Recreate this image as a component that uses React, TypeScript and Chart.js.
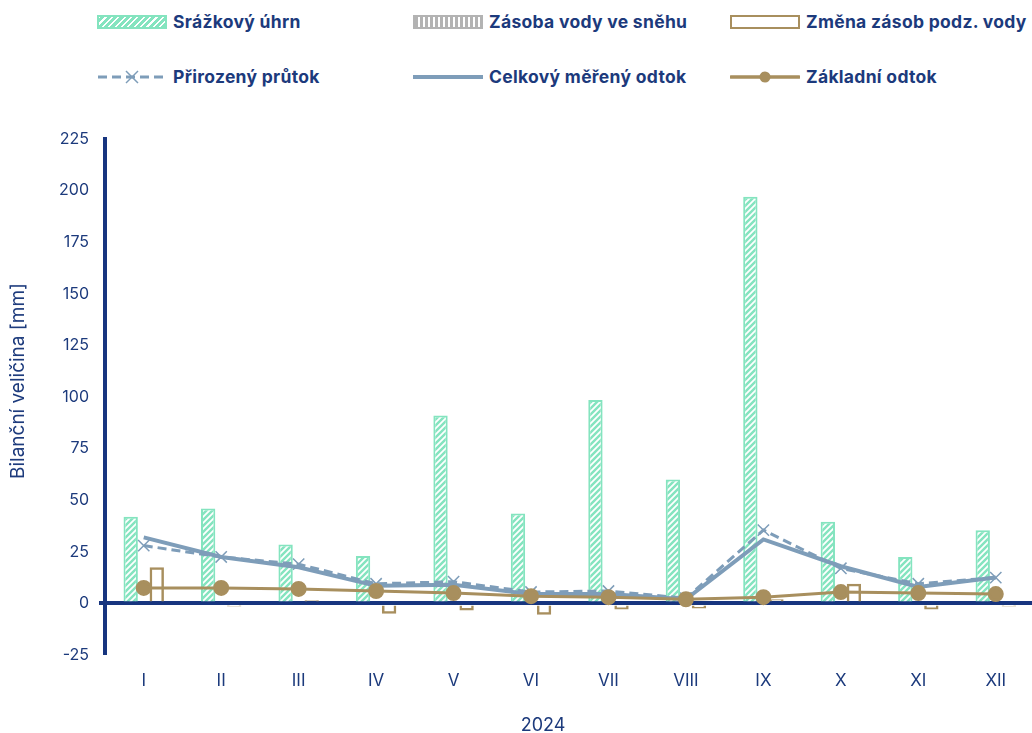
import React, { useEffect, useRef } from "react";
import { Chart, registerables } from "chart.js";

Chart.register(...registerables);

const categories = ["I", "II", "III", "IV", "V", "VI", "VII", "VIII", "IX", "X", "XI", "XII"];
const precipitation = [42, 46, 28.5, 23, 91, 43.5, 98.5, 60, 197, 39.5, 22.5, 35.5];
const snowStorage = [0, 0, 0, 0, 0, 0, 0, 0, 0, 0, 0, 0];
const groundwaterChange = [17.5, -1.5, 1.5, -5, -3.5, -5.5, -3, -2.5, 2, 9.5, -3, -1.5];
const naturalFlow = [28, 22.5, 19, 9.5, 10.5, 5.5, 6, 2.5, 35.5, 17, 9.5, 12.5];
const totalRunoff = [32, 22.5, 17.5, 8.5, 9, 4.5, 4.5, 2, 31, 18, 8, 12.5];
const baseflow = [7.5, 7.5, 7, 6, 5, 3.5, 3, 2, 3, 5.5, 5, 4.5];
const yTicks = [-25, 0, 25, 50, 75, 100, 125, 150, 175, 200, 225];
const yTitle = "Bilanční veličina [mm]";
const xTitle = "2024";

const NAVY = "#1c3a7c";
const AXIS = "#17357f";
const GREEN = "#84e4bf";
const GRAY = "#b3b3b3";
const BROWN = "#a88f5e";
const BLUE = "#7e9db9";
const FONT = "Inter, 'Noto Sans', sans-serif";

function hatch(bg: string, fg: string): CanvasPattern | string {
  const c = document.createElement("canvas");
  c.width = 6;
  c.height = 6;
  const g = c.getContext("2d");
  if (!g) return bg;
  g.fillStyle = bg;
  g.fillRect(0, 0, 6, 6);
  g.strokeStyle = fg;
  g.lineWidth = 1.8;
  g.beginPath();
  g.moveTo(-1, 7);
  g.lineTo(7, -1);
  g.moveTo(-4, 4);
  g.lineTo(4, -4);
  g.moveTo(2, 10);
  g.lineTo(10, 2);
  g.stroke();
  const p = g.createPattern(c, "repeat");
  return p || bg;
}

const legendText: React.CSSProperties = {
  fontFamily: FONT,
  fontWeight: 700,
  fontSize: 17.5,
  color: NAVY,
  whiteSpace: "nowrap",
  position: "absolute",
  lineHeight: "20px",
  letterSpacing: "0.3px",
};

function LegendItem(props: { x: number; y: number; label: string; swatch: React.ReactNode }) {
  return (
    <>
      <div style={{ position: "absolute", left: props.x, top: props.y - 10, width: 70, height: 20 }}>
        {props.swatch}
      </div>
      <div style={{ ...legendText, left: props.x + 76, top: props.y - 10 }}>{props.label}</div>
    </>
  );
}

export default function App() {
  const ref = useRef<HTMLCanvasElement>(null);

  useEffect(() => {
    if (!ref.current) return;
    const greenPat = hatch(GREEN, "#ffffff");
    const chart = new Chart(ref.current, {
      type: "bar",
      data: {
        labels: categories,
        datasets: [
          {
            type: "bar",
            label: "Srážkový úhrn",
            data: precipitation,
            backgroundColor: greenPat as any,
            borderColor: GREEN,
            borderWidth: 2,
            categoryPercentage: 0.505,
            barPercentage: 1.1,
            order: 5,
          },
          {
            type: "bar",
            label: "Zásoba vody ve sněhu",
            data: snowStorage,
            backgroundColor: GRAY,
            borderColor: GRAY,
            borderWidth: 0,
            categoryPercentage: 0.505,
            barPercentage: 1.1,
            order: 5,
          },
          {
            type: "bar",
            label: "Změna zásob podz. vody",
            data: groundwaterChange,
            backgroundColor: "rgba(255,255,255,0)",
            borderColor: BROWN,
            borderWidth: 2.5,
            categoryPercentage: 0.505,
            barPercentage: 1.1,
            order: 5,
          },
          {
            type: "line",
            label: "Přirozený průtok",
            data: naturalFlow,
            borderColor: BLUE,
            backgroundColor: BLUE,
            borderWidth: 3,
            borderDash: [9, 5],
            pointStyle: "crossRot",
            pointRadius: 8,
            pointBorderWidth: 1.5,
            pointBorderColor: BLUE,
            tension: 0,
            order: 3,
          },
          {
            type: "line",
            label: "Celkový měřený odtok",
            data: totalRunoff,
            borderColor: BLUE,
            backgroundColor: BLUE,
            borderWidth: 4,
            pointRadius: 0,
            tension: 0,
            order: 2,
          },
          {
            type: "line",
            label: "Základní odtok",
            data: baseflow,
            borderColor: BROWN,
            backgroundColor: BROWN,
            borderWidth: 3,
            pointStyle: "circle",
            pointRadius: 6.5,
            pointBackgroundColor: BROWN,
            pointBorderColor: BROWN,
            tension: 0,
            order: 1,
          },
        ],
      },
      options: {
        animation: false,
        responsive: true,
        maintainAspectRatio: false,
        layout: { padding: { top: 139, right: 0, bottom: 0, left: 0 } },
        plugins: {
          legend: { display: false },
          tooltip: { enabled: false },
        },
        scales: {
          x: {
            offset: true,
            grid: { display: false, drawTicks: false },
            border: { display: false },
            ticks: {
              color: NAVY,
              font: { family: FONT, size: 17 },
              padding: 16,
              maxRotation: 0,
            },
            afterFit: (s: any) => {
              s.height = 78;
            },
          },
          y: {
            min: -25,
            max: 225,
            afterBuildTicks: (s: any) => {
              s.ticks = yTicks.map((v) => ({ value: v }));
            },
            grid: {
              color: (c: any) => (c.tick && c.tick.value === 0 ? AXIS : "rgba(0,0,0,0)"),
              lineWidth: (c: any) => (c.tick && c.tick.value === 0 ? 4 : 0),
              tickLength: 6,
              drawTicks: true,
            },
            border: { display: true, color: AXIS, width: 4 },
            ticks: {
              color: NAVY,
              font: { family: FONT, size: 16 },
              padding: 10,
            },
            afterFit: (s: any) => {
              s.width = 105;
            },
          },
        },
      },
    });
    return () => chart.destroy();
  }, []);

  const hatchCss = `repeating-linear-gradient(-45deg, ${GREEN} 0px, ${GREEN} 3px, #ffffff 3px, #ffffff 4.5px)`;

  return (
    <div style={{ position: "absolute", left: 0, top: 0, width: 1032, height: 733, background: "#fff", overflow: "hidden" }}>
      <LegendItem
        x={97}
        y={22}
        label="Srážkový úhrn"
        swatch={
          <div style={{ marginTop: 3, width: 70, height: 14, boxSizing: "border-box", border: `2px solid ${GREEN}`, background: hatchCss }} />
        }
      />
      <LegendItem
        x={413}
        y={22}
        label="Zásoba vody ve sněhu"
        swatch={
          <div
            style={{
              marginTop: 3,
              width: 70,
              height: 14,
              boxSizing: "border-box",
              border: `2px solid ${GRAY}`,
              background: `repeating-linear-gradient(90deg, ${GRAY} 0px, ${GRAY} 3px, #ffffff 3px, #ffffff 5px)`,
            }}
          />
        }
      />
      <LegendItem
        x={730}
        y={22}
        label="Změna zásob podz. vody"
        swatch={
          <div style={{ marginTop: 3, width: 70, height: 14, boxSizing: "border-box", border: `2.5px solid ${BROWN}`, background: "#fff" }} />
        }
      />
      <LegendItem
        x={97}
        y={77}
        label="Přirozený průtok"
        swatch={
          <svg width={70} height={20}>
            <line x1={1} y1={10} x2={69} y2={10} stroke={BLUE} strokeWidth={3} strokeDasharray="9 5" />
            <line x1={29} y1={4} x2={41} y2={16} stroke={BLUE} strokeWidth={1.5} />
            <line x1={41} y1={4} x2={29} y2={16} stroke={BLUE} strokeWidth={1.5} />
          </svg>
        }
      />
      <LegendItem
        x={413}
        y={77}
        label="Celkový měřený odtok"
        swatch={
          <svg width={70} height={20}>
            <line x1={0} y1={10} x2={70} y2={10} stroke={BLUE} strokeWidth={4} strokeLinecap="round" />
          </svg>
        }
      />
      <LegendItem
        x={730}
        y={77}
        label="Základní odtok"
        swatch={
          <svg width={70} height={20}>
            <line x1={1} y1={10} x2={69} y2={10} stroke={BROWN} strokeWidth={3.5} strokeLinecap="round" />
            <circle cx={35} cy={10} r={5.5} fill={BROWN} />
          </svg>
        }
      />
      <div style={{ position: "absolute", left: 0, top: 0, width: 1044, height: 733 }}>
        <canvas ref={ref} />
      </div>
      <div
        style={{
          position: "absolute",
          left: 18,
          top: 381,
          transform: "translate(-50%, -50%) rotate(-90deg)",
          fontFamily: FONT,
          fontSize: 19,
          color: NAVY,
          whiteSpace: "nowrap",
          lineHeight: "22px",
        }}
      >
        {yTitle}
      </div>
      <div
        style={{
          position: "absolute",
          left: 543,
          top: 725,
          transform: "translate(-50%, -50%)",
          fontFamily: FONT,
          fontSize: 18,
          color: NAVY,
          whiteSpace: "nowrap",
          lineHeight: "22px",
        }}
      >
        {xTitle}
      </div>
    </div>
  );
}
